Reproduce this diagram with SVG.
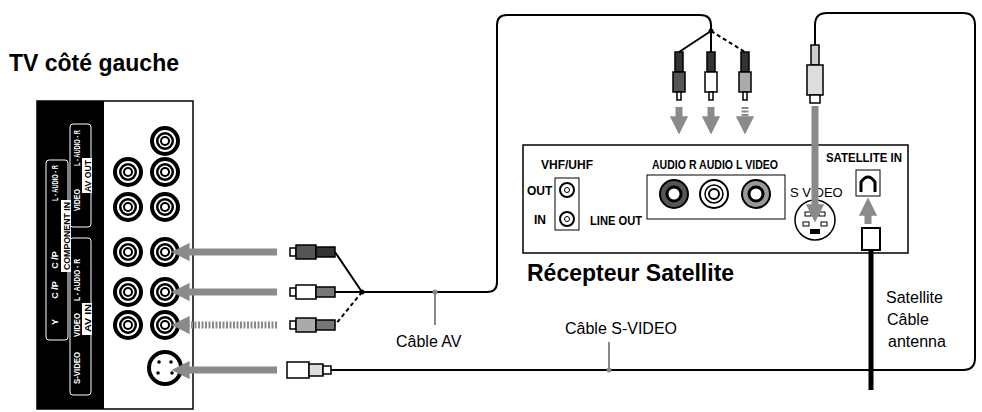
<svg xmlns="http://www.w3.org/2000/svg" width="982" height="412" viewBox="0 0 982 412">
<defs>
<style>
text{font-family:"Liberation Sans",Arial,sans-serif;fill:#000}
.b{font-weight:bold}
.cab{fill:none;stroke:#000;stroke-width:2}
.arr{stroke:#8a8a8a;stroke-width:7;fill:none}
.lbl{font-size:9px;font-weight:bold;fill:#fff;text-anchor:middle}
.lk{font-size:9px;font-weight:bold;fill:#000;text-anchor:middle}
</style>
<marker id="ah" viewBox="0 0 10 10" refX="2" refY="5" markerWidth="2.6" markerHeight="2.6" orient="auto"><path d="M0,0L10,5L0,10z" fill="#8a8a8a"/></marker>
<g id="rca">
<circle r="15" fill="#000"/><circle r="11" fill="#fff"/><circle r="9" fill="#000"/><circle r="6.5" fill="#fff"/><circle r="5" fill="#000"/><circle r="3" fill="#fff"/>
</g>
</defs>
<rect width="982" height="412" fill="#fff"/>
<text x="9" y="71" class="b" font-size="23">TV côté gauche</text>
<text x="527" y="281" class="b" font-size="23">Récepteur Satellite</text>

<g id="tv-panel">
<rect x="37" y="101" width="156" height="308" fill="#fff" stroke="#000" stroke-width="1.5"/>
<rect x="37" y="101" width="67" height="308" fill="#000"/>
<rect x="70" y="124" width="21" height="103" rx="3" fill="none" stroke="#fff"/>
<rect x="46" y="160" width="22" height="180" rx="3" fill="none" stroke="#fff"/>
<rect x="70" y="238" width="21" height="157" rx="3" fill="none" stroke="#fff"/>
<rect x="82" y="158" width="10" height="35" fill="#fff"/>
<rect x="82" y="303" width="10" height="32" fill="#fff"/>
<rect x="61" y="200" width="10" height="72" fill="#fff"/>
<text class="lbl" transform="translate(80,148) rotate(-90)" textLength="36" lengthAdjust="spacingAndGlyphs">L - AUDIO - R</text>
<text class="lbl" transform="translate(80,200) rotate(-90)" textLength="22" lengthAdjust="spacingAndGlyphs">VIDEO</text>
<text class="lk" transform="translate(91,176) rotate(-90)" textLength="32" lengthAdjust="spacingAndGlyphs">AV OUT</text>
<text class="lbl" transform="translate(58,183) rotate(-90)" textLength="36" lengthAdjust="spacingAndGlyphs">L - AUDIO - R</text>
<text class="lk" transform="translate(70,236) rotate(-90)" textLength="68" lengthAdjust="spacingAndGlyphs">COMPONENT IN</text>
<text class="lbl" transform="translate(58,260) rotate(-90)">C /P</text>
<text class="lbl" transform="translate(58,290) rotate(-90)">C /P</text>
<text class="lbl" transform="translate(58,322) rotate(-90)">Y</text>
<text class="lbl" transform="translate(80,280) rotate(-90)" textLength="42" lengthAdjust="spacingAndGlyphs">L - AUDIO - R</text>
<text class="lbl" transform="translate(80,325) rotate(-90)" textLength="24" lengthAdjust="spacingAndGlyphs">VIDEO</text>
<text class="lk" transform="translate(91,318) rotate(-90)" textLength="28" lengthAdjust="spacingAndGlyphs">AV IN</text>
<text class="lbl" transform="translate(80,368) rotate(-90)" textLength="32" lengthAdjust="spacingAndGlyphs">S-VIDEO</text>
<use href="#rca" x="165" y="141"/>
<use href="#rca" x="128" y="172"/><use href="#rca" x="165" y="172"/>
<use href="#rca" x="128" y="207"/><use href="#rca" x="165" y="207"/>
<use href="#rca" x="128" y="252"/><use href="#rca" x="165" y="252"/>
<use href="#rca" x="128" y="292"/><use href="#rca" x="165" y="292"/>
<use href="#rca" x="128" y="325"/><use href="#rca" x="165" y="325"/>
<circle cx="165" cy="368" r="16" fill="#fff" stroke="#000" stroke-width="4"/>
<circle cx="159" cy="362" r="1.8"/><circle cx="171" cy="362" r="1.8"/><circle cx="158" cy="373" r="1.8"/><circle cx="172" cy="373" r="1.8"/>
</g>

<g id="receiver">
<rect x="523" y="145" width="385" height="108" fill="#fff" stroke="#000" stroke-width="1.5"/>
<text x="567" y="169" class="b" font-size="12" text-anchor="middle">VHF/UHF</text>
<text x="527" y="195" class="b" font-size="12">OUT</text>
<text x="534" y="224" class="b" font-size="12">IN</text>
<rect x="555" y="178" width="24" height="52" fill="#fff" stroke="#000"/>
<circle cx="567" cy="190" r="7" fill="#fff" stroke="#000" stroke-width="2"/><circle cx="567" cy="190" r="2.5" fill="none" stroke="#000"/>
<circle cx="567" cy="219" r="7" fill="#fff" stroke="#000" stroke-width="2"/><circle cx="567" cy="219" r="2.5" fill="none" stroke="#000"/>
<text x="590" y="225" class="b" font-size="12" textLength="52" lengthAdjust="spacingAndGlyphs">LINE OUT</text>
<text x="652" y="169" class="b" font-size="12" textLength="126" lengthAdjust="spacingAndGlyphs">AUDIO R  AUDIO L  VIDEO</text>
<rect x="647" y="175" width="138" height="44" fill="#fff" stroke="#000"/>
<circle cx="674" cy="194" r="14" fill="#555" stroke="#000" stroke-width="2"/><circle cx="674" cy="194" r="7" fill="#fff" stroke="#000" stroke-width="3"/>
<circle cx="714" cy="194" r="14" fill="#fff" stroke="#000" stroke-width="2"/><circle cx="714" cy="194" r="9" fill="none" stroke="#000" stroke-width="1.5"/><circle cx="714" cy="194" r="5" fill="none" stroke="#000" stroke-width="2"/>
<circle cx="756" cy="194" r="14" fill="#999" stroke="#000" stroke-width="2"/><circle cx="756" cy="194" r="7" fill="#fff" stroke="#000" stroke-width="3"/>
<text x="790" y="197" font-size="13">S VIDEO</text>
<circle cx="815" cy="220" r="20" fill="#fff" stroke="#000" stroke-width="1.5"/>
<rect x="805" y="212" width="6" height="4" fill="none" stroke="#000"/><rect x="819" y="212" width="6" height="4" fill="none" stroke="#000"/>
<rect x="803" y="222" width="6" height="4" fill="none" stroke="#000"/><rect x="821" y="222" width="6" height="4" fill="none" stroke="#000"/>
<rect x="810" y="229" width="10" height="5" fill="#000"/>
<text x="826" y="162" class="b" font-size="12" textLength="76" lengthAdjust="spacingAndGlyphs">SATELLITE IN</text>
<rect x="856" y="170" width="24" height="26" fill="#fff" stroke="#000"/>
<path d="M861,192V182Q868,172 875,182V192" fill="none" stroke="#000" stroke-width="3"/>
</g>

<g id="connectors">
<path class="cab" d="M362,292H487Q497,292 497,282V25Q497,15 507,15H700Q711,15 711,25V31"/>
<circle cx="711" cy="31" r="2.5"/>
<path class="cab" d="M711,31L679,52M711,31V52"/>
<path class="cab" d="M711,31L745,52" stroke-dasharray="4,3"/>
<circle cx="362" cy="292" r="2.5"/>
<path class="cab" d="M362,292L335,252M362,292H335"/>
<path class="cab" d="M362,292L335,325" stroke-dasharray="4,3"/>
<g fill="#fff" stroke="#000" stroke-width="1.5">
<rect x="675" y="52" width="8" height="20" fill="#333"/><rect x="673" y="72" width="12" height="20" fill="#555"/><rect x="677" y="92" width="4" height="8"/>
<rect x="707" y="52" width="8" height="20" fill="#333"/><rect x="705" y="72" width="12" height="20"/><rect x="709" y="92" width="4" height="8"/>
<rect x="741" y="52" width="8" height="20" fill="#333"/><rect x="739" y="72" width="12" height="20" fill="#aaa"/><rect x="743" y="92" width="4" height="8"/>
</g>
<g fill="#fff" stroke="#000" stroke-width="1.5">
<rect x="290" y="248" width="6" height="8"/><rect x="296" y="245" width="20" height="14" fill="#555"/><rect x="316" y="247" width="19" height="10" fill="#333"/>
<rect x="290" y="288" width="6" height="8"/><rect x="296" y="285" width="20" height="14"/><rect x="316" y="287" width="19" height="10" fill="#777"/>
<rect x="290" y="321" width="6" height="8"/><rect x="296" y="318" width="20" height="14" fill="#aaa"/><rect x="316" y="320" width="19" height="10" fill="#777"/>
<rect x="287" y="362" width="22" height="16"/><rect x="309" y="364" width="14" height="12" fill="#ddd"/><rect x="323" y="366" width="8" height="8"/>
</g>
<path class="cab" d="M331,370H963Q975,370 975,358V25Q975,13 963,13H827Q815,13 815,25V45"/>
<g fill="#fff" stroke="#000" stroke-width="1.5">
<rect x="811" y="45" width="8" height="20" fill="#ccc"/><rect x="807" y="65" width="16" height="30" fill="#ddd"/><rect x="810" y="95" width="10" height="8"/>
</g>
<path d="M871,245V390" stroke="#000" stroke-width="5"/>
<rect x="862" y="228" width="18" height="22" fill="#fff" stroke="#000" stroke-width="2"/>
<path class="arr" d="M277,252H186" marker-end="url(#ah)"/>
<path class="arr" d="M277,292H186" marker-end="url(#ah)"/>
<path class="arr" d="M277,325H186" marker-end="url(#ah)" stroke-dasharray="2,1.5"/>
<path class="arr" d="M277,370H186" marker-end="url(#ah)"/>
<path class="arr" d="M679,107V120" marker-end="url(#ah)"/>
<path class="arr" d="M711,107V120" marker-end="url(#ah)"/>
<path class="arr" d="M745,107V120" marker-end="url(#ah)" stroke-dasharray="2,1.5"/>
<path class="arr" d="M815,106V208" marker-end="url(#ah)"/>
<path class="arr" d="M868,224V212" marker-end="url(#ah)"/>
<path d="M435,292V325M609,342V370" stroke="#888" stroke-width="2"/>
<circle cx="435" cy="292" r="2.5" fill="#888"/><circle cx="609" cy="370" r="2.5" fill="#888"/>
</g>
<text x="396" y="347" font-size="16">Câble AV</text>
<text x="565" y="334" font-size="16">Câble S-VIDEO</text>
<text x="886" y="303" font-size="16">Satellite</text>
<text x="887" y="325" font-size="16">Câble</text>
<text x="888" y="347" font-size="16">antenna</text>
</svg>
